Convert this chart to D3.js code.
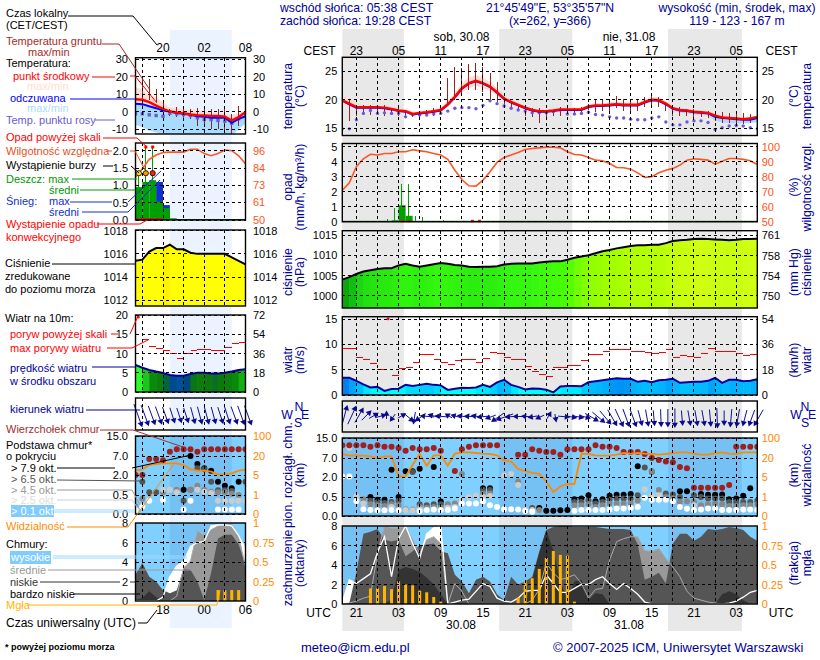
<!DOCTYPE html>
<html>
<head>
<meta charset="utf-8">
<script src="https://cdn.jsdelivr.net/npm/d3@7"></script>
<style>
body{margin:0;background:#fff}
svg{display:block}
text{font-family:"Liberation Sans",Arial,sans-serif}
</style>
</head>
<body>
<svg id="fig" width="820" height="660"></svg>
<script>
// --- values; main = 59 h forecast, side = 16 h forecast ---
const mainHours = d3.range(60);
const sideHours = d3.range(17);
const mainNight = [[0, 8.75], [22.3, 32.7], [46.3, 56.8]];
const sideDay = [5, 14];

const localLabels = ["23","05","11","17","23","05","11","17","23","05"];
const utcLabels = ["21","03","09","15","21","03","09","15","21","03"];

const mainTemp = [19.9,19.3,18.7,18.7,18.7,18.7,18.6,18.4,18.1,18,17.5,17.7,17.8,18,18.2,19.2,20.5,22,22.9,23.3,22.9,22.3,21.3,20.2,19.6,19.1,18.6,18.2,18,18,18.1,18.3,18.3,18.3,18.3,18.8,19,19,19.1,19.2,19.1,19.1,19.1,19.6,20,19.9,19.3,18.5,18.2,18.1,17.9,17.8,17.7,17.2,16.9,16.8,16.7,16.6,16.7,17];
const mainTempHi = [20.9,20.3,19.4,19,19,18.9,18.9,18.8,18.5,18.3,17.9,18,18.1,18.3,18.6,19.8,21.2,22.8,23.9,24.2,23.9,23.1,22,20.7,20,19.4,18.9,18.5,18.3,18.3,18.4,18.6,18.6,18.6,18.6,19.1,19.4,19.4,19.5,19.6,19.5,19.5,19.5,20,20.5,20.4,19.7,18.8,18.5,18.4,18.2,18.1,18,17.5,17.2,17.1,17,16.9,17,17.2];
const mainTempLo = [19,18.8,18.4,18.4,18.4,18.4,18.3,18.1,17.8,17.7,17.2,17.4,17.5,17.7,17.9,18.7,19.9,21.2,22,22.4,22,21.5,20.6,19.8,19.2,18.8,18.3,17.9,17.7,17.7,17.8,18,18,18,18,18.5,18.7,18.7,18.8,18.9,18.8,18.8,18.8,19.2,19.6,19.5,18.9,18.2,17.9,17.8,17.6,17.5,17.4,16.8,16.6,16.5,16.4,16.3,16.4,16.7];
const mainApparent = [19.8,19.2,18.6,18.6,18.6,18.6,18.5,18.3,18,17.9,17.4,17.6,17.7,17.9,18.1,19.1,20.4,21.9,22.8,23.2,22.8,22.2,21.2,20.1,19.5,19,18.5,18.1,17.9,17.9,18,18.2,18.2,18.2,18.2,18.7,18.9,18.9,19,19.1,19,19,19,19.5,19.9,19.8,19.2,18.4,18.1,18,17.8,17.7,17.6,17,16.8,16.7,16.6,16.5,16.5,16.8];
const mainApparentLo = [null,null,null,null,null,null,null,null,null,null,null,null,null,null,null,null,null,null,null,null,null,null,null,null,null,null,null,null,null,null,null,null,null,null,null,null,null,null,null,null,null,null,null,null,null,null,18.9,18,17.7,17.6,17.4,17.3,17.2,16.3,16,15.9,15.9,15.9,15.9,16.1];
const mainDew = [14.9,14.9,16.5,17.6,18.1,17.6,17.7,17.6,17.6,17,17.4,17.3,17.3,17.5,17.6,18,18.5,18.6,18.6,18.4,19,19.8,19.3,18.9,18.5,18.2,18,17.7,17.7,17.7,17.9,18.2,17.5,17.5,17.6,17.8,17.4,17.3,17,16.8,16.8,16.6,16.5,16.5,16.8,17,16.1,15.6,15.6,16.1,16.3,16.3,16,14.8,15.1,15.4,15.5,15.4,15.1,14.9];
const mainGroundMax = [20,19.9,19.1,19,19.1,18.8,19,18.5,18.5,17.9,17.6,17.9,18.2,18.5,18.5,23.7,25.7,25.5,26.3,26.4,25.7,24.7,23,20.5,19.6,19.1,18.9,18.5,18.6,18.2,18.2,18.8,18.5,18.5,18.8,19.3,19.9,20,20.2,20.6,20.2,20.2,20.2,20.5,20.8,20.5,19.6,18.7,18.7,18.4,18.4,18.1,18,17.6,17.8,17.6,17.6,17.6,17.5,17];
const mainGroundMin = [20,16.2,17.1,17.4,17.3,17.5,17.1,17.3,17.1,16.9,16.9,16.9,17.1,17.1,17.6,19.3,19.9,20.8,21.7,21.7,21.3,19.9,19.6,18.8,18.4,18,17.1,16.9,15.9,16.8,17.1,17.1,17.4,17.4,17.6,18.2,17.9,18.1,18.1,18.6,18.1,18.1,18.1,18.8,19.1,18.8,18.1,17.1,17.1,17.1,16.9,16.9,16.8,16.2,16,16,15.8,15.7,16,16.7];

const mainHumidity = [71,76,86.7,92,95,94.5,95.5,95.5,96.7,96.7,98,97.3,96.7,95.5,94.5,91.6,84.4,78.2,74,73.8,77.8,83.4,89.6,92.9,94.5,96.2,98.2,98.9,99.3,99.8,99.8,99.3,96.7,94.9,94.5,92.9,91.1,90.7,88.9,86.2,86,85.1,82.6,79.6,80,82.7,84.4,85.6,87.8,91.1,92,91.6,91.1,88.4,90.4,92.2,92.2,91.6,90.7,88.2];
const mainRainHours = [7, 8, 9];
const mainRainMean = [0.1, 1.1, 0.4];
const mainRainPeakHours = [6.4, 7.4, 8.4, 9.4, 10.4, 11.4, 12.4, 14.4, 15.4, 17.4];
const mainRainPeak = [0.2, 0.9, 2.5, 2.5, 0.4, 0.35, 0.05, 0.15, 0.03, 0.02];
const mainConvective = [8.5, 9.5, 18.5, 19.5];

const mainPressure = [1004,1004.6,1005.4,1006,1006.3,1006.6,1006.8,1006.8,1007.5,1007.9,1007.5,1007.2,1007.5,1007.8,1008.1,1007.9,1007.6,1007.5,1007.2,1007.1,1007.2,1007.2,1007.3,1007.7,1007.9,1008,1008,1008,1008.2,1008.4,1008.5,1008.5,1008.9,1009.4,1009.7,1010,1010.5,1011,1011.3,1011.7,1012,1012.3,1012.5,1012.5,1012.6,1012.6,1013,1013.5,1013.7,1013.8,1014,1014.1,1014,1013.9,1013.8,1013.7,1013.8,1014,1014,1014.1];

const mainWind = [3.4,3.4,2.8,2.1,1.5,1.6,0.8,1.2,1.25,2,1.8,2,2.2,2,1.9,1,1.25,1.45,1.4,1.5,2,1.6,2.5,3,2,1.6,1.1,1.3,1.25,1.05,0.5,1.7,1.8,1.8,1.75,2.5,2.7,2.9,3.1,3.3,3.2,3.2,2.6,2.8,2.5,2.9,3,3.2,2.4,2.5,2.6,2.6,2.8,3.4,2.4,3,3,2.7,2.8,3.1];
const mainGust = [9.2,9.2,7.4,7.1,6.3,5.1,null,3.9,5.3,5.4,6.4,8,8,7,6.4,6,6.8,7,7,6.4,7.2,8.4,8.1,7.4,7,7,5.6,4.7,4.1,3.7,5.4,5.4,5.8,5.8,6.8,8,8,8.6,8.9,9,9,8.6,8.6,8.4,8.2,8.4,9,7.4,7.8,7.6,7.4,8.2,9.2,8.6,8.6,8.6,8.2,7.8,8];
const mainGustOver = [6.5];
const mainWindDir = [15,25,30,45,60,75,0,215,60,130,190,235,275,285,275,300,285,280,275,280,265,250,235,250,265,270,275,260,245,30,170,95,100,100,105,120,130,140,150,155,160,160,165,170,175,178,180,180,175,170,170,170,175,178,180,185,190,195,200,210];

const mainBaseBlack = [null,null,null,null,0.5,0.43,0.43,3.9,0.5,3.5,3.5,4.2,null,4.6,0.38,null,null,null,null,null,1.15,1.15,null,null,null,null,null,null,0.21,0.14,0.14,0.15,0.16,0.44,0.46,0.63,0.39,0.44,0.6,0.66,0.66,0.73,4.8,null,null,null,null,null,0.94,0.94,null,0.73,0.66,0.66,0.68,0.44,0.46,0.6,1.15,null];
const mainBaseDark = [null,null,null,null,0.4,0.37,0.34,0.37,0.4,null,3.3,0.31,0.28,0.31,0.31,null,null,null,null,null,1.02,1.02,null,null,null,null,null,0.21,null,null,null,null,null,0.37,0.37,0.41,0.33,0.37,0.43,0.46,0.46,0.46,0.63,4.5,3.4,null,0.76,0.68,0.5,null,0.63,0.5,0.46,0.46,0.46,0.37,0.37,0.37,0.37,0.4];
const mainBaseMid = [null,null,null,0.44,0.31,0.28,0.26,0.31,0.28,0.18,0.17,0.24,0.22,0.24,0.22,0.31,0.33,2.8,null,null,0.76,0.76,null,null,null,1.66,null,null,0.155,null,null,null,null,0.28,0.28,0.31,0.24,0.28,0.33,0.33,0.33,0.34,0.41,null,3.6,1.02,0.5,0.46,0.37,0.39,0.37,0.28,0.31,0.33,0.31,0.26,0.26,0.28,0.28,0.31];
const mainBaseLight = [null,11,0.53,0.33,null,null,null,0.24,null,0.155,0.15,0.18,null,null,null,0.22,0.24,0.43,0.5,0.59,0.5,0.58,null,2.4,2.8,1.4,0.155,0.155,null,null,null,null,null,null,null,null,null,null,null,null,null,null,null,1.07,0.63,0.63,null,null,null,null,0.28,null,null,null,null,null,null,null,null,null];
const mainBaseWhite = [2.1,2.1,0.39,0.18,0.155,0.15,0.15,0.155,0.15,null,null,0.13,0.155,0.17,0.155,0.155,0.2,0.33,0.33,0.33,0.39,0.28,0.24,0.18,0.18,0.17,0.13,0.11,null,null,null,null,null,0.14,0.155,0.155,0.155,0.155,0.17,0.2,0.2,0.21,0.24,0.48,0.43,0.43,0.43,0.39,0.24,0.19,0.155,0.17,0.2,0.2,0.155,0.155,0.155,0.17,0.17,0.155];
const mainCloudTop = [12.1,12.1,12.1,12.1,11.5,12.1,11.5,11.5,11,9.9,11,10.5,10.5,11,9.9,null,3.6,10.5,11.5,12.1,12.1,12.1,12.1,null,null,8.3,8.3,10.5,9.9,9.4,9.4,8.3,10.5,10.5,10.5,10.5,12.1,11.5,11.5,11,9.4,9.4,9.4,8.6,7,6.5,6.1,5.9,4.6,4.3,1.2,1.2,1.2,1.2,1.2,1.4,11.5,11.5,11.5,11.5];
const mainVisibility = [36,29.3,30.7,29.3,26.7,19.7,26.7,26.7,5.5,5.5,14.7,36,13.9,30.7,30.7,13.9,37.3,42.7,42.7,40,37.3,36,30.7,18.2,17.1,11.3,9.7,8.2,7.4,4.1,2,3.1,3.6,3.6,37.3,36,30.7,29.3,29.3,33.3,40,37.3,40,37.3,36,33.3,36,40,42.7,42.7,37.3,33.3,33.3,40,42.7,37.3,36,42.7,42.7,42.7];

const mainCloudHigh = [0.17,2.5,2.1,2.6,3.1,5.3,6.9,2.8,6.7,8,6.2,4.7,7.2,7.8,8,0,0.2,0.4,0.5,1.3,2.1,1.8,0.6,0.3,0.2,0.6,1.3,1.4,1.4,3,2.1,1.2,1.2,1.6,2,2,2.5,2.8,2.1,1.5,2.1,1.6,1,0.2,0,0,0,0,0,0,0,0,0,0,0,0.1,0.3,0.7,1.2,1.4];
const mainCloudMid = [0,0.1,0.3,0.6,0.8,5.2,8,7.8,7.8,7.9,6.6,5.2,6.6,6.9,6.2,0,2.1,1.3,0,0,0,0,0,0,0,0,0,0.4,1.5,4.2,3.2,2.5,2.7,3,2.1,0.6,1.5,1.6,4.5,6.4,6.7,6.9,6.9,5.5,5.4,5.7,4.7,3.8,2.8,1.3,0.6,0.4,0.2,0.1,0,0,0,0,0,0];
const mainCloudLow = [0,0.1,3.2,7.2,7.4,7.7,6.6,6.4,6.6,4.9,5.4,6,6.1,6.2,5.4,5.2,3,2.3,1.1,2.5,2.8,2.3,1,0.4,2.8,2,2.3,2.8,5.4,7.6,7.9,8,8,7.9,7.9,7.9,7.9,7.8,7.7,7.7,7.7,7.6,6.1,2.5,2.8,3.2,2.1,6.2,7.2,7.2,6.5,6.9,7.7,7.6,7.7,7.9,7.8,7.6,6.9,6.5];
const mainCloudVeryLow = [0,0,0,0,0,0,0,0.5,3.5,3.8,3.6,3.3,2.7,2,1,0,0,0,0,0,0,0,0,0,0,0,0,2.5,5.2,7.6,5.5,2.3,0.4,2.3,2.5,0.4,1.1,1,0,0,0,0,0,0,0,0,0,0,0,0,0,0,0,0,1,1.3,1,0.4,0,0];
const mainFogHours = [4,5,6,7,8,9,10,11,12,13,14,25,26,27,28,29,30,31,32,33];
const mainFog = [0.2,0.2,0.23,0.19,0.29,0.25,0.24,0.17,0.15,0.09,0.03,0.08,0.29,0.33,0.45,0.59,0.68,0.63,0.62,0.03];

const sideTemp = [7,6.7,5.3,3.4,1.5,0,-0.6,-1,-1.7,-2.1,-2.3,-2.5,-2.5,-2.9,-5.1,-3.2,-0.4];
const sideTempHi = [13.9,12.4,9.1,7.8,5.3,2.5,2.1,1.5,1,0.6,0.2,-0.4,-1.3,-1.3,-2.3,-0.8,0.6];
const sideApparent = [4.4,4.2,3,1.9,0.6,0,-0.8,-1.3,-1.9,-2.7,-3,-3.6,-3.6,-3.6,-6.5,-4.2,-2.7];
const sideApparentLo = [-7.5,-9,-11,-12,-13,-13,-14,-14,-14,-14,-14,-14,-14,-14,-14,-10,-7];
const sideDew = [-1.3,-1.3,-1.9,-2.3,-2.7,-1,-1.3,-1.7,-2.3,-3.6,-4.6,-4.6,-5.1,-5.5,-6.7,-4.2,-1.3];
const sideGroundMax = [null,19.6,18.7,13,6.3,1.5,2.5,2.1,1.5,2.1,1.5,1.5,1.5,1.5,-1.3,2.9,-0.4];
const sideGroundMin = [null,3.4,6.3,5.3,1.5,-2.3,-3.2,-3.6,-4.2,-8,-9,-9.9,-9.9,-10.9,-12.8,-8,-1.3];

const sideHumidity = [78,83.5,90,93,94.7,95,95,95,97,97,94,92.5,94,96.5,96,92.5,87];
const sideRainHours = [0, 1, 2, 3, 4, 5];
const sideRainMean = [0.95, 1.1, 1.15, 0.53, 0.34, 0.05];
const sideSnowMean = [0, 0, 0, 1.1, 0.43, 0];
const sideRainPeakHours = [0.5, 1.5, 2.5];
const sideRainPeak = [1.35, 2.07, 2.07];
const sideRainOver = [1.5, 2.5];
const sideStormColors = ["#ffe000", "#ff9a00", "#ff2000"];
const sideConvective = [0.2, 0.7, 1.2, 1.7, 2.2, 2.7, 3.2, 3.7];

const sidePressure = [1015.4,1015.5,1016.2,1016.5,1016.5,1016.8,1016.4,1016.4,1016.1,1016,1016,1016,1016,1016,1015.7,1015.4,1015.1];

const sideWind = [7,6.3,5.7,5.3,4.95,4.4,4.2,4.2,4.7,5,5,4.8,4.8,5,5.3,5.7,5.9];
const sideGust = [null,13.6,11.8,11.4,10.7,9.9,8.8,9.9,10.7,11,11,10.7,10.7,11.6,12.6,12.9];
const sideGustOver = [0.4];
const sideWindDir = [160,160,160,160,160,162,162,162,165,165,165,165,162,162,160,160,160];

const sideBaseBlack = [null,null,null,null,null,null,null,0.9,7,4.9,3.8,3.1,1.5,1.2,1,1.5,null];
const sideBaseDark = [null,1.5,0.7,0.7,null,null,null,0.35,0.9,3.8,3.6,1.5,0.86,0.86,0.8,null,1.5];
const sideBaseMid = [0.2,0.4,null,null,0.7,null,0.9,null,0.9,1.2,0.9,0.75,0.7,0.7,0.6,0.5,null];
const sideBaseLight = [0.12,0.2,null,null,0.9,0.9,0.7,null,null,0.9,0.75,0.65,0.35,0.35,0.35,0.35,0.35];
const sideBaseWhite = [0.1,0.2,0.35,null,0.37,null,null,0.12,0.35,null,null,null,0.12,0.12,0.12,0.12,null];
const sideCloudTop = [2,2,6.2,6.2,5.9,8.7,9.7,9.7,9.7,8.7,9.7,9.7,9.7,9.7,9.7,9.7,9.7];
const sideVisibility = [8.4,9.5,12.9,13.7,14.2,14.2,14.2,12.9,9.5,8.4,8.4,7.6,5.5,5.5,6.3,8.4,9];

const sideCloudHigh = [0,0,0,0,0.4,2.5,3.6,4.1,5.6,6,6.1,7.7,7.8,7.8,7.7,6.7,5.3];
const sideCloudMid = [0,0,0,0,0,0,0.5,3.4,4.1,7.2,6.7,7.3,7.7,7.8,7.9,6.7,3.5];
const sideCloudLow = [2.7,3.9,2.5,2,1.1,0.8,1.1,3.3,3.2,2,0.1,2.9,6.4,6.8,6.8,5.8,3.7];
const sideCloudVeryLow = [0.1,0.3,1,0.4,0,0,0,0,0,0,0,0,0,0,0,0,0];
const sideFogHours = [12, 13, 14, 15];
const sideFog = [0.14, 0.14, 0.14, 0.14];

// --- tick values ---
const baseTicks = [0, 0.5, 2, 7, 15];
const visTicks = [0, 1, 5, 20, 100];
const mmHgTicks = [750, 754, 758, 761];

// --- legend of the left column ---
const legendText = [
  ["Czas lokalny",6,17,"#000"],["(CET/CEST)",6,29,"#000"],
  ["Temperatura gruntu",6,45,"#a52a2a"],["max/min",28,56,"#a52a2a"],
  ["Temperatura:",6,67,"#000"],["punkt środkowy",13,80,"#f00"],["max/min",27,90,"#ffe0d0"],
  ["odczuwana",10,102,"#00f"],["max/min",27,112,"#aaddff"],["Temp. punktu rosy",6,124,"#6a5acd"],
  ["Opad powyżej skali",6,141,"#f00"],["Wilgotność względna",6,155,"#e8501c"],["Wystąpienie burzy",6,169,"#000"],
  ["Deszcz: max",6,183,"#009900"],["średni",49,194,"#009900"],["Śnieg:",6,205,"#1030d0"],["max",49,205,"#1030d0"],["średni",49,216,"#1030d0"],
  ["Wystąpienie opadu",6,228,"#f00"],["konwekcyjnego",6,241,"#f00"],
  ["Ciśnienie",5,267,"#000"],["zredukowane",5,280,"#000"],["do poziomu morza",5,293,"#000"],
  ["Wiatr na 10m:",5,322,"#000"],["poryw powyżej skali",10,338,"#f00"],["max porywy wiatru",10,352,"#f00"],
  ["prędkość wiatru",10,372,"#000099"],["w środku obszaru",10,385,"#000099"],["kierunek wiatru",10,413,"#000099"],
  ["Wierzchołek chmur",6,433,"#a03030"],["Podstawa chmur*",6,449,"#000"],["o pokryciu",6,460,"#000"],
  ["> 7.9 okt.",11,472,"#000"],["> 6.5 okt.",11,483,"#555"],["> 4.5 okt.",11,494,"#999"],["> 2.5 okt.",11,504,"#ddd"],["> 0.1 okt.",11,515,"#fff"],
  ["Widzialność",6,530,"#ff8c00"],["Chmury:",6,548,"#000"],["wysokie",11,561,"#fff"],["średnie",10,574,"#999"],
  ["niskie",10,586,"#333"],["bardzo niskie",10,598,"#000"],["Mgła",6,609,"#ffb400"]
];
const legendLines = [
  ["#000",[[68,16],[133,16],[157,45]]],
  ["#a52a2a",[[102,44],[119,44],[150,90]]],
  ["#f00",[[92,77],[115,77]]],["#f00",[[130,76],[135,76],[157,103]]],
  ["#00f",[[70,99],[135,99]]],
  ["#6a5acd",[[95,120],[115,120]]],
  ["#f00",[[103,138],[137,138],[147,147]]],
  ["#e8501c",[[106,151],[112,151]]],["#e8501c",[[130,151],[135,151],[145,170]]],
  ["#000",[[103,166],[113,166]]],["#000",[[131,166],[139,173]]],
  ["#009900",[[72,179],[137,179]]],["#009900",[[80,190],[135,190]]],
  ["#1030d0",[[70,202],[112,202]]],["#1030d0",[[128,202],[161,171]]],
  ["#1030d0",[[82,212],[128,212],[160,180]]],
  ["#f00",[[97,224],[140,224],[147,220]]],
  ["#000",[[52,264],[135,264]]],
  ["#f00",[[111,334],[118,334]]],["#f00",[[130,334],[138,316]]],
  ["#f00",[[107,348],[132,348],[148,340]]],
  ["#000099",[[92,367],[135,367]]],["#000099",[[86,410],[140,410]]],
  ["#a03030",[[100,430],[133,430],[183,447]]],
  ["#000",[[57,468],[115,468]]],["#000",[[132,468],[191,455]]],
  ["#555",[[57,480],[143,481]]],["#999",[[57,490],[132,490],[140,505]]],["#ccc",[[57,500],[132,500],[137,507]]],
  ["#9ad8ff",[[54,510],[135,510]]],["#9ad8ff",[[54,512],[135,512]]],
  ["#ff8c00",[[67,527],[128,527],[173,465]]],
  ["#9ad8ff",[[53,556],[187,556]]],["#9ad8ff",[[53,558],[187,558]]],
  ["#999",[[48,570],[193,570]]],
  ["#333",[[40,582],[120,582]]],["#333",[[130,582],[135,582]]],
  ["#000",[[74,594],[140,594]]],
  ["#ffb400",[[27,605],[217,605],[220,590]]],
  ["#000",[[138,623],[147,623],[157,610]]]
];

const svg = d3.select("#fig");
const gridDash = "3,3";
const navy = "#000099";
const humidityColor = "#ff5522";
const visColor = "#ff8800";
const fogColor = "#ffb400";

const pressureColor = d3.scaleLinear()
  .domain([1004,1005,1006,1008,1009,1010,1012,1014,1015,1016.6,1016.8])
  .range(["#0a9a0a","#10c010","#20e010","#33f80e","#4cff00","#8cff00","#aaff00","#ccff11","#ffff00","#ffff00","#ffcc00"]);
const windColor = d3.scaleLinear()
  .domain([1.5,2.1,3,3.4,4.4,4.9,5.5,6])
  .range(["#00ffff","#00ccff","#00b0ff","#0080ee","#004488","#0a7a0a","#0a8a0a","#18c818"]);

const lineOf = (x, y) => d3.line().defined(d => d[1] != null).x(d => x(d[0])).y(d => y(d[1]));

function pairs(hours, values){
  return values.map((v, i) => [hours[i], v]);
}

function addAxis(gen, x, padding, color, format){
  const g = svg.append("g").attr("transform", `translate(${x},0)`)
    .call(gen.tickSize(0).tickPadding(padding).tickFormat(format || (d => d)));
  g.select(".domain").remove();
  g.selectAll("text").attr("font-size", 11).attr("fill", color)
    .style("font-family", '"Liberation Sans",Arial,sans-serif');
}

function drawGrid(v, y, yTicks, top, bottom){
  const g = svg.append("g").attr("stroke", "#000").attr("stroke-dasharray", gridDash).attr("stroke-width", 1)
    .attr("shape-rendering", "crispEdges");
  v.gridHours.forEach(h => g.append("line").attr("x1", v.x(h)).attr("x2", v.x(h)).attr("y1", top).attr("y2", bottom));
  yTicks.forEach(t => g.append("line").attr("x1", v.left).attr("x2", v.right).attr("y1", y(t)).attr("y2", y(t)));
}

function drawBorder(v, top, bottom){
  svg.append("rect").attr("x", v.left).attr("y", top).attr("width", v.right - v.left).attr("height", bottom - top)
    .attr("fill", "none").attr("stroke", "#000").attr("stroke-width", 1.4);
}

function addClip(id, v, top, bottom){
  svg.append("clipPath").attr("id", id).append("rect")
    .attr("x", v.left).attr("y", top).attr("width", v.right - v.left).attr("height", bottom - top);
}

function drawTemperature(v, d, y){
  const g = svg.append("g").attr("clip-path", `url(#${v.name}-temp)`);
  const area = (hi, lo, fill) => g.append("path")
    .datum(v.hours.map((h, i) => [h, hi[i], lo[i]]))
    .attr("fill", fill)
    .attr("d", d3.area().defined(p => p[1] != null && p[2] != null).x(p => v.x(p[0])).y0(p => y(p[2])).y1(p => y(p[1])));
  area(d.apparent, d.apparentLo, "#a8dcff");
  area(d.hi, d.lo, "#ffdcd4");
  g.selectAll("line.ground").data(v.hours.filter((h, i) => d.groundMax[i] != null)).join("line")
    .attr("x1", h => v.x(h)).attr("x2", h => v.x(h))
    .attr("y1", h => y(d.groundMax[h])).attr("y2", h => y(d.groundMin[h]))
    .attr("stroke", "#a02020").attr("stroke-width", 1).attr("shape-rendering", "crispEdges");
  g.selectAll("rect.dew").data(pairs(v.hours, d.dew)).join("rect")
    .attr("x", p => v.x(p[0]) - 1.7).attr("y", p => y(p[1]) - 1.7).attr("width", 3.4).attr("height", 3.4).attr("rx", v.dewRound)
    .attr("fill", "#6a5ad8");
  g.append("path").datum(pairs(v.hours, d.apparent)).attr("fill", "none").attr("stroke", "#0000ff").attr("stroke-width", 2)
    .attr("d", lineOf(v.x, y));
  g.append("path").datum(pairs(v.hours, d.temp)).attr("fill", "none").attr("stroke", "#ff0000").attr("stroke-width", 2.4)
    .attr("d", lineOf(v.x, y));
}

function drawPrecip(v, d, y, yH){
  const g = svg.append("g");
  if(d.snow){
    g.selectAll("rect.snow").data(d.rainHours).join("rect")
      .attr("x", h => v.x(h)).attr("width", h => v.x(h + 1) - v.x(h))
      .attr("y", (h, i) => y(d.snow[i])).attr("height", (h, i) => y(0) - y(d.snow[i]))
      .attr("fill", "#1030d0");
  }
  g.selectAll("rect.rain").data(d.rainHours).join("rect")
    .attr("x", h => v.x(h)).attr("width", h => v.x(h + 1) - v.x(h))
    .attr("y", (h, i) => y(d.rain[i])).attr("height", (h, i) => y(0) - y(d.rain[i]))
    .attr("fill", "#00a000");
  g.selectAll("line.peak").data(d.peakHours).join("line")
    .attr("x1", h => v.x(h)).attr("x2", h => v.x(h))
    .attr("y1", y(0)).attr("y2", (h, i) => y(d.peak[i]))
    .attr("stroke", "#00a000").attr("stroke-width", 1).attr("shape-rendering", "crispEdges");
  g.append("line").attr("x1", v.left).attr("x2", v.right).attr("y1", y(0) - 0.5).attr("y2", y(0) - 0.5).attr("stroke", "#006600");
  g.selectAll("rect.conv").data(d.convective).join("rect")
    .attr("x", h => v.x(h) - v.convWidth / 2).attr("width", v.convWidth)
    .attr("y", y(0) - 2).attr("height", 2.4).attr("fill", "#e01010");
  g.append("path").datum(pairs(v.hours, d.humidity)).attr("fill", "none").attr("stroke", humidityColor).attr("stroke-width", 1.6)
    .attr("d", lineOf(v.x, yH));
}

function drawColumns(v, values, y, color, id){
  // one colored column per hour, cut by the curve
  const area = d3.area().x(p => v.x(p[0])).y0(y.range()[0]).y1(p => y(p[1]));
  const curve = pairs(v.hours, values);
  svg.append("clipPath").attr("id", id).append("path").datum(curve).attr("d", area);
  const g = svg.append("g").attr("clip-path", `url(#${id})`);
  g.selectAll("rect").data(v.hours.slice(0, -1)).join("rect")
    .attr("x", h => v.x(h)).attr("width", h => v.x(h + 1) - v.x(h) + 0.5)
    .attr("y", Math.min(...y.range())).attr("height", Math.abs(y.range()[0] - y.range()[1]))
    .attr("fill", h => color((values[h] + values[h + 1]) / 2));
}

function drawWind(v, d, y, top){
  drawColumns(v, d.wind, y, windColor, v.name + "-wind");
  svg.append("path").datum(pairs(v.hours, d.wind)).attr("fill", "none").attr("stroke", "#000099").attr("stroke-width", 2)
    .attr("d", lineOf(v.x, y));
  const g = svg.append("g").attr("stroke", "#ff0000").attr("stroke-width", 1).attr("shape-rendering", "crispEdges");
  d.gust.forEach((s, h) => {
    if(s != null) g.append("line").attr("x1", v.x(h)).attr("x2", v.x(h + 1)).attr("y1", y(s)).attr("y2", y(s));
  });
  d.gustOver.forEach(h => svg.append("circle").attr("cx", v.x(h)).attr("cy", top + 2).attr("r", 1.5).attr("fill", "#f00"));
}

function drawDirection(v, d, top, bottom){
  const g = svg.append("g");
  const mid = (top + bottom) / 2;
  v.hours.forEach(h => {
    const len = Math.max(d.wind[h] * v.arrowScale, 5);
    const a = d.dir[h] * Math.PI / 180;
    const dx = Math.sin(a) * len / 2, dy = -Math.cos(a) * len / 2;
    const cx = v.x(h) + 2;
    g.append("line").attr("x1", cx - dx).attr("y1", mid - dy).attr("x2", cx + dx).attr("y2", mid + dy)
      .attr("stroke", "#101099").attr("stroke-width", 1);
    g.append("path")
      .attr("d", d3.symbol(d3.symbolTriangle, 16))
      .attr("transform", `translate(${cx + dx},${mid + dy}) rotate(${d.dir[h]})`)
      .attr("fill", "#0a0a90");
  });
}

function drawBase(v, d, y, yV, top, bottom){
  svg.append("rect").attr("x", v.left).attr("y", top).attr("width", v.right - v.left).attr("height", bottom - top).attr("fill", "#80d0ff");
  v.tintSpans.forEach(s => svg.append("rect").attr("x", v.x(s[0])).attr("width", v.x(s[1]) - v.x(s[0])).attr("y", top).attr("height", bottom - top)
    .attr("fill", "#4a78c0").attr("fill-opacity", 0.17));
  const g = svg.append("g").attr("clip-path", `url(#${v.name}-base)`);
  const layer = (values, fill) => g.append("g").selectAll("circle").data(pairs(v.hours, values).filter(p => p[1] != null)).join("circle")
    .attr("cx", p => v.x(p[0])).attr("cy", p => y(p[1])).attr("r", 3).attr("fill", fill);
  layer(d.black, "#000");
  layer(d.dark, "#555");
  layer(d.mid, "#888");
  layer(d.light, "#ccc");
  layer(d.white, "#fff");
  layer(d.top, "#a02020");
  g.append("path").datum(pairs(v.hours, d.vis)).attr("fill", "none").attr("stroke", visColor).attr("stroke-width", 1.8)
    .attr("d", lineOf(v.x, yV));
}

function drawClouds(v, d, y, yF, top, bottom){
  svg.append("rect").attr("x", v.left).attr("y", top).attr("width", v.right - v.left).attr("height", bottom - top).attr("fill", "#80d0ff");
  v.tintSpans.forEach(s => svg.append("rect").attr("x", v.x(s[0])).attr("width", v.x(s[1]) - v.x(s[0])).attr("y", top).attr("height", bottom - top)
    .attr("fill", "#4a78c0").attr("fill-opacity", 0.17));
  const g = svg.append("g").attr("clip-path", `url(#${v.name}-cloud)`);
  const area = d3.area().x(p => v.x(p[0])).y0(y(0)).y1(p => y(p[1]));
  [[d.high, "#fff"], [d.cmid, "#999"], [d.low, "#555"], [d.vlow, "#333"]].forEach(l =>
    g.append("path").datum(pairs(v.hours, l[0])).attr("fill", l[1]).attr("d", area));
  g.append("path").datum(pairs(v.hours, d.cmid)).attr("fill", "none").attr("stroke", "#aaa").attr("d", lineOf(v.x, y));
  g.append("path").datum(pairs(v.hours, d.high)).attr("fill", "none").attr("stroke", "#fff").attr("stroke-width", 1.3).attr("d", lineOf(v.x, y));
  g.selectAll("rect.fog").data(d.fogHours).join("rect")
    .attr("x", h => v.x(h) - 1.5).attr("width", 3)
    .attr("y", (h, i) => yF(d.fog[i])).attr("height", (h, i) => yF(0) - yF(d.fog[i]))
    .attr("fill", fogColor);
}

function drawView(v, d, p){
  // temperature
  addClip(v.name + "-temp", v, p.temp[0], p.temp[1]);
  drawTemperature(v, d, p.tempY);
  drawGrid(v, p.tempY, p.tempTicks, p.temp[0], p.temp[1]);
  drawBorder(v, p.temp[0], p.temp[1]);
  addAxis(d3.axisLeft(p.tempY).tickValues(p.tempTicks), v.left, v.padL, "#000");
  addAxis(d3.axisRight(p.tempY).tickValues(p.tempTicks), v.right, v.padR, "#000");

  // rain and humidity
  drawPrecip(v, d, p.rainY, p.humY);
  drawGrid(v, p.rainY, p.rainTicks, p.rain[0], p.rain[1]);
  drawBorder(v, p.rain[0], p.rain[1]);
  addAxis(d3.axisLeft(p.rainY).tickValues(p.rainTicks), v.left, v.padL, "#000", p.rainFormat);
  addAxis(d3.axisRight(p.humY).tickValues(p.humTicks), v.right, v.padR, humidityColor);

  // pressure
  drawColumns(v, d.pressure, p.pressY, pressureColor, v.name + "-press");
  svg.append("path").datum(pairs(v.hours, d.pressure)).attr("fill", "none").attr("stroke", "#000").attr("stroke-width", 2).attr("d", lineOf(v.x, p.pressY));
  drawGrid(v, p.pressY, p.pressTicks, p.press[0], p.press[1]);
  drawBorder(v, p.press[0], p.press[1]);
  addAxis(d3.axisLeft(p.pressY).tickValues(p.pressTicks), v.left, v.padL, "#000");
  addAxis(d3.axisRight(p.pressRightY).tickValues(p.pressRightTicks), v.right, v.padR, "#000");

  // wind
  drawWind(v, d, p.windY, p.wind[0]);
  drawGrid(v, p.windY, p.windTicks, p.wind[0], p.wind[1]);
  drawBorder(v, p.wind[0], p.wind[1]);
  addAxis(d3.axisLeft(p.windY).tickValues(p.windTicks), v.left, v.padL, "#000");
  addAxis(d3.axisRight(p.windKmY).tickValues(p.windKmTicks), v.right, v.padR, "#000");

  // wind direction
  drawGrid(v, p.windY, [], p.dir[0], p.dir[1]);
  drawDirection(v, d, p.dir[0], p.dir[1]);
  drawBorder(v, p.dir[0], p.dir[1]);

  // cloud base and visibility
  addClip(v.name + "-base", v, p.base[0], p.base[1]);
  drawBase(v, d, p.baseY, p.visY, p.base[0], p.base[1]);
  drawGrid(v, p.baseY, baseTicks, p.base[0], p.base[1]);
  drawBorder(v, p.base[0], p.base[1]);
  addAxis(d3.axisLeft(p.baseY).tickValues(baseTicks), v.left, v.padL, "#000", d3.format(".1f"));
  addAxis(d3.axisRight(p.visY).tickValues(visTicks), v.right, v.padR, visColor);

  // cloud cover and fog
  addClip(v.name + "-cloud", v, p.cloud[0], p.cloud[1]);
  drawClouds(v, d, p.cloudY, p.fogY, p.cloud[0], p.cloud[1]);
  drawGrid(v, p.cloudY, [2, 4, 6], p.cloud[0], p.cloud[1]);
  drawBorder(v, p.cloud[0], p.cloud[1]);
  addAxis(d3.axisLeft(p.cloudY).tickValues([0, 2, 4, 6, 8]), v.left, v.padL, "#000");
  addAxis(d3.axisRight(p.fogY).tickValues([0, 0.25, 0.5, 0.75, 1]), v.right, v.padR, visColor);
}

function text(s, x, y, color, size, anchor, weight){
  return svg.append("text").attr("x", x).attr("y", y).attr("fill", color || "#000")
    .attr("font-size", size || 11).attr("text-anchor", anchor || "start").attr("font-weight", weight || "normal").text(s);
}

function vText(s, x, y, color){
  svg.append("text").attr("transform", `translate(${x},${y}) rotate(-90)`).attr("fill", color || navy)
    .attr("font-size", 12.3).attr("text-anchor", "middle").text(s);
}

const mainX = d3.scaleLinear().domain([0, 59]).range([342.3, 757.3]);
const sideX = d3.scaleLinear().domain([0, 16]).range([135.5, 245.5]);

// page background bands
mainNight.forEach(s => svg.append("rect").attr("x", mainX(s[0])).attr("width", mainX(s[1]) - mainX(s[0])).attr("y", 29).attr("height", 602).attr("fill", "#e8e8e8"));
svg.append("rect").attr("x", sideX(sideDay[0])).attr("width", sideX(sideDay[1]) - sideX(sideDay[0])).attr("y", 30).attr("height", 598).attr("fill", "#eaf3ff");

const mainView = {
  name: "main", x: mainX, left: 342.3, right: 757.3, hours: mainHours, gridHours: d3.range(2, 59, 3),
  tintSpans: mainNight, padL: 5, padR: 4.4, dewRound: 1.7, convWidth: 3, arrowScale: 5
};
const sideView = {
  name: "side", x: sideX, left: 135.5, right: 245.5, hours: sideHours, gridHours: d3.range(1, 16, 3),
  tintSpans: [sideDay], padL: 7.5, padR: 7.5, dewRound: 0, convWidth: 3, arrowScale: 3
};

drawView(mainView, {
  temp: mainTemp, hi: mainTempHi, lo: mainTempLo, apparent: mainApparent, apparentLo: mainApparentLo,
  dew: mainDew, groundMax: mainGroundMax, groundMin: mainGroundMin, humidity: mainHumidity,
  rainHours: mainRainHours, rain: mainRainMean, peakHours: mainRainPeakHours, peak: mainRainPeak, convective: mainConvective,
  pressure: mainPressure, wind: mainWind, gust: mainGust, gustOver: mainGustOver, dir: mainWindDir,
  black: mainBaseBlack, dark: mainBaseDark, mid: mainBaseMid, light: mainBaseLight, white: mainBaseWhite, top: mainCloudTop,
  vis: mainVisibility, high: mainCloudHigh, cmid: mainCloudMid, low: mainCloudLow, vlow: mainCloudVeryLow,
  fogHours: mainFogHours, fog: mainFog
}, {
  temp: [57.3, 135.5], tempY: d3.scaleLinear().domain([15, 25]).range([128.3, 71]), tempTicks: [15, 20, 25],
  rain: [143.5, 221.8], rainY: d3.scaleLinear().domain([0, 5]).range([221.8, 146.8]), humY: d3.scaleLinear().domain([50, 100]).range([221.8, 146.8]),
  rainTicks: [0, 1, 2, 3, 4, 5], humTicks: [50, 60, 70, 80, 90, 100],
  press: [230.7, 308], pressY: d3.scaleLinear().domain([997, 1015]).range([308, 235]), pressTicks: [1000, 1005, 1010, 1015],
  pressRightY: d3.scaleLinear().domain(mmHgTicks).range([296, 276, 255.7, 235]), pressRightTicks: mmHgTicks,
  wind: [316.7, 395], windY: d3.scaleLinear().domain([0, 15]).range([395, 319]), windTicks: [0, 5, 10, 15],
  windKmY: d3.scaleLinear().domain([0, 54]).range([395, 319]), windKmTicks: [0, 18, 36, 54],
  dir: [401, 432],
  base: [438, 516], baseY: d3.scaleLinear().domain(baseTicks).range([516, 497, 477, 458, 438]), visY: d3.scaleLinear().domain(visTicks).range([516, 497, 477, 458, 438]),
  cloud: [526, 604], cloudY: d3.scaleLinear().domain([0, 8]).range([604, 526]), fogY: d3.scaleLinear().domain([0, 1]).range([604, 526])
});

drawView(sideView, {
  temp: sideTemp, hi: sideTempHi, lo: sideApparent, apparent: sideApparent, apparentLo: sideApparentLo,
  dew: sideDew, groundMax: sideGroundMax, groundMin: sideGroundMin, humidity: sideHumidity,
  rainHours: sideRainHours, rain: sideRainMean, snow: sideSnowMean, peakHours: sideRainPeakHours, peak: sideRainPeak, convective: sideConvective,
  pressure: sidePressure, wind: sideWind, gust: sideGust, gustOver: sideGustOver, dir: sideWindDir,
  black: sideBaseBlack, dark: sideBaseDark, mid: sideBaseMid, light: sideBaseLight, white: sideBaseWhite, top: sideCloudTop,
  vis: sideVisibility, high: sideCloudHigh, cmid: sideCloudMid, low: sideCloudLow, vlow: sideCloudVeryLow,
  fogHours: sideFogHours, fog: sideFog
}, {
  temp: [57.7, 134], tempY: d3.scaleLinear().domain([-10, 30]).range([129, 59]), tempTicks: [-10, 0, 10, 20, 30],
  rain: [143, 220], rainY: d3.scaleLinear().domain([0, 2]).range([220, 150.7]), humY: d3.scaleLinear().domain([50, 61, 73, 84, 96]).range([220, 202.3, 185, 168, 150.7]),
  rainTicks: [0, 0.5, 1, 1.5, 2], humTicks: [50, 61, 73, 84, 96], rainFormat: d3.format(".1f"),
  press: [230, 306], pressY: d3.scaleLinear().domain([1011.5, 1018]).range([306, 230.7]), pressTicks: [1012, 1014, 1016, 1018],
  pressRightY: d3.scaleLinear().domain([1011.5, 1018]).range([306, 230.7]), pressRightTicks: [1012, 1014, 1016, 1018],
  wind: [315, 392], windY: d3.scaleLinear().domain([0, 20]).range([392, 315]), windTicks: [0, 5, 10, 15, 20],
  windKmY: d3.scaleLinear().domain([0, 72]).range([392, 315]), windKmTicks: [0, 18, 36, 54, 72],
  dir: [398, 430],
  base: [436, 514], baseY: d3.scaleLinear().domain(baseTicks).range([514, 495, 475, 456, 436]), visY: d3.scaleLinear().domain(visTicks).range([514, 495, 475, 456, 436]),
  cloud: [523, 601], cloudY: d3.scaleLinear().domain([0, 8]).range([601, 523]), fogY: d3.scaleLinear().domain([0, 1]).range([601, 523])
});

// storm marks and over-scale rain of the small panel
const sideRainY = d3.scaleLinear().domain([0, 2]).range([220, 150.7]);
sideRainPeakHours.forEach((h, i) => svg.append("circle").attr("cx", sideX(h)).attr("cy", sideRainY(1.35)).attr("r", 2.6)
  .attr("fill", sideStormColors[i]).attr("stroke", "#000").attr("stroke-width", 0.8));
sideRainOver.forEach(h => svg.append("rect").attr("x", sideX(h) - 1.5).attr("y", 145.5).attr("width", 3).attr("height", 3).attr("fill", "#f00"));

// hour labels
localLabels.forEach((s, i) => text(s, mainX(2 + i * 6), 55, "#000", 12, "middle"));
utcLabels.forEach((s, i) => text(s, mainX(2 + i * 6), 617, "#000", 12, "middle"));
[["20", 4], ["02", 10], ["08", 16]].forEach(l => text(l[0], sideX(l[1]), 52, "#000", 12, "middle"));
[["18", 4], ["00", 10], ["06", 16]].forEach(l => text(l[0], sideX(l[1]), 614, "#000", 12, "middle"));
text("CEST", 319.5, 55, "#000", 12, "middle");
text("CEST", 781.5, 55, "#000", 12, "middle");
text("UTC", 318.5, 617, "#000", 12, "middle");
text("UTC", 781, 617, "#000", 12, "middle");
text("sob, 30.08", 461.5, 41, "#000", 12, "middle");
text("nie, 31.08", 629, 41, "#000", 12, "middle");
text("30.08", 461, 629, "#000", 12, "middle");
text("31.08", 629, 629, "#000", 12, "middle");

// header and footer
text("wschód słońca: 05:38 CEST", 280, 12, navy, 12.2);
text("zachód słońca: 19:28 CEST", 280, 25, navy, 12.2);
text("21°45'49\"E, 53°35'57\"N", 550, 12, navy, 12.2, "middle");
text("(x=262,  y=366)", 550, 25, navy, 12.2, "middle");
text("wysokość (min, środek, max)", 737, 12, navy, 12.2, "middle");
text("119 - 123 - 167 m", 737, 25, navy, 12.2, "middle");
text("meteo@icm.edu.pl", 301, 652, navy, 13);
text("© 2007-2025 ICM, Uniwersytet Warszawski", 553, 652, navy, 13);
text("* powyżej poziomu morza", 5, 650, "#000", 9, "start", "bold");
text("Czas uniwersalny (UTC)", 6, 627, "#000", 12);

// rotated panel titles
[
  ["temperatura", "(°C)", "(°C)", "temperatura", 96, 96],
  ["opad", "(mm/h, kg/m³/h)", "(%)", "wilgotność wzgl.", 187, 187],
  ["ciśnienie", "(hPa)", "(mm Hg)", "ciśnienie", 272, 272],
  ["wiatr", "(m/s)", "(km/h)", "wiatr", 360, 360],
  ["pion. rozciągł. chm.", "(km)", "(km)", "widzialność", 475, 475],
  ["zachmurzenie", "(oktanty)", "(frakcja)", "mgła", 568, 563]
].forEach(t => {
  vText(t[0], 292, t[4]);
  vText(t[1], 304, t[5]);
  vText(t[2], 798, t[5]);
  vText(t[3], 811, t[5]);
});
[["W", 287, 419], ["N", 299, 411], ["E", 305, 419], ["S", 298, 427], ["W", 796, 419], ["N", 805, 411], ["E", 812, 419], ["S", 805, 427]]
  .forEach(l => text(l[0], l[1], l[2], navy, 12.3, "middle"));

// legend
legendLines.forEach(l => svg.append("polyline").attr("points", l[1].map(p => p.join(",")).join(" "))
  .attr("fill", "none").attr("stroke", l[0]).attr("stroke-width", 1));
svg.append("rect").attr("x", 11).attr("y", 505).attr("width", 43).attr("height", 12).attr("fill", "#80ccff");
svg.append("rect").attr("x", 10).attr("y", 551).attr("width", 41).attr("height", 13).attr("fill", "#80ccff");
legendText.forEach(l => text(l[0], l[1], l[2], l[3], 11));
</script>
</body>
</html>
